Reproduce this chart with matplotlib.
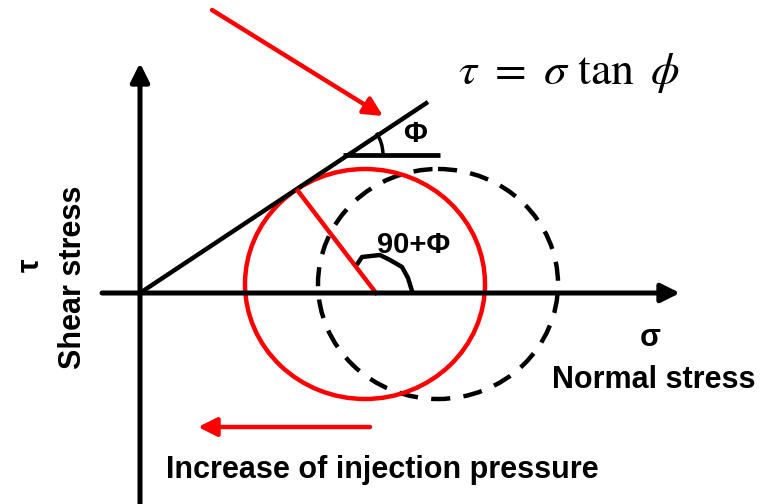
import numpy as np
import matplotlib
matplotlib.use('Agg')
import matplotlib.pyplot as plt
from matplotlib.patches import Ellipse, Arc

plt.rcParams['font.family'] = ['Liberation Sans', 'DejaVu Sans']
plt.rcParams['mathtext.fontset'] = 'stix'

# geometry of the sketch, in pixel units of the 769x504 picture
origin = (140, 293)
x_axis_end = 680
x_axis_start = 102
y_axis_top = 63
y_axis_bottom = 504
envelope_end = (428, 102)

red_center = (365, 284)
red_radii = (120, 115)
dash_center = (438, 284)
dash_radii = (120, 115)

radius_start = (376, 293)
radius_end = (298, 191)

phi_ref = (343, 155)
phi_ref_end = 440
phi_arc_r = 40
phi_angle = 33.6

# hand drawn arc for 90+phi
arc_x = [358, 362, 380, 390, 402, 408, 412]
arc_y = [263, 257, 255, 260, 267, 278, 291]

top_arrow = [(212, 10), (383, 116)]
bottom_arrow = [(370, 427), (198, 427)]

fig = plt.figure(figsize=(7.69, 5.04), dpi=100)
ax = fig.add_axes([0, 0, 1, 1])
ax.set_xlim(0, 769)
ax.set_ylim(504, 0)
ax.axis('off')

blk = 'black'
red = '#ff0000'

# axes with arrows
ax.annotate('', xy=(x_axis_end, origin[1]), xytext=(x_axis_start, origin[1]),
            arrowprops=dict(arrowstyle='-|>', color=blk, lw=3.6, mutation_scale=28,
                            shrinkA=0, shrinkB=0))
ax.annotate('', xy=(origin[0], y_axis_top), xytext=(origin[0], y_axis_bottom),
            arrowprops=dict(arrowstyle='-|>', color=blk, lw=3.6, mutation_scale=28,
                            shrinkA=0, shrinkB=0))

# failure envelope
ax.plot([origin[0], envelope_end[0]], [origin[1], envelope_end[1]], color=blk, lw=3.2, solid_capstyle='butt')
ax.plot([phi_ref[0], phi_ref_end], [phi_ref[1], phi_ref[1]], color=blk, lw=3.4, solid_capstyle='butt')
ax.add_patch(Arc(phi_ref, 2 * phi_arc_r, 2 * phi_arc_r, theta1=360 - phi_angle, theta2=360,
                 color=blk, lw=2.5))
ax.text(415, 134, 'Φ', fontsize=21, fontweight='bold', ha='center', va='center')

# Mohr circles
ax.add_patch(Ellipse(dash_center, 2 * dash_radii[0], 2 * dash_radii[1], fill=False,
                     ec=blk, lw=3.2, linestyle=(0, (4.3, 3.0))))
ax.add_patch(Ellipse(red_center, 2 * red_radii[0], 2 * red_radii[1], fill=False,
                     ec=red, lw=3.2))
ax.plot([radius_start[0], radius_end[0]], [radius_start[1], radius_end[1]], color=red, lw=3.2)

ax.plot(arc_x, arc_y, color=blk, lw=3.2, solid_joinstyle='round')
ax.text(414, 245, '90+Φ', fontsize=21, fontweight='bold', ha='center', va='center')

# red arrows
for a, b in [top_arrow, bottom_arrow]:
    ax.annotate('', xy=b, xytext=a,
                arrowprops=dict(arrowstyle='-|>', color=red, lw=3.2, mutation_scale=28,
                                shrinkA=0, shrinkB=0))

# labels
ax.text(458, 84, r'$\tau\ =\ \sigma\ \tan\ \phi$', fontsize=33, ha='left', va='baseline')
ax.text(650, 338, 'σ', fontsize=22, fontweight='bold', ha='center', va='center')
ax.text(654, 380, 'Normal stress', fontsize=22, fontweight='bold', ha='center', va='center')
ax.text(73, 277, 'Shear stress', fontsize=22, fontweight='bold', ha='center', va='center', rotation=90)
ax.text(31, 265, 'τ', fontsize=22, fontweight='bold', ha='center', va='center', rotation=90)
ax.text(382, 470, 'Increase of injection pressure', fontsize=22, fontweight='bold',
        ha='center', va='center')

fig.savefig('out.png', dpi=100)
